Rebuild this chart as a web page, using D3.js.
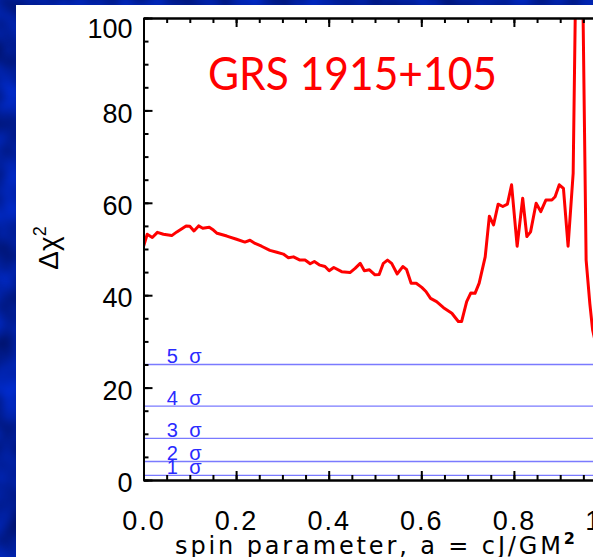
<!DOCTYPE html>
<html>
<head>
<meta charset="utf-8">
<script src="https://cdn.jsdelivr.net/npm/d3@7"></script>
<style>
  html, body { margin: 0; padding: 0; background: #0a1f9c; }
  svg { display: block; }
</style>
</head>
<body>
<svg id="chart" width="593" height="557"></svg>
<script>
// Spin parameter grid and Δχ² values of the fit scan
const spin = [
  0.000, 0.008, 0.019, 0.030, 0.043, 0.061, 0.072, 0.092, 0.100, 0.109,
  0.119, 0.128, 0.142, 0.151, 0.159, 0.180, 0.201, 0.219, 0.230, 0.241,
  0.255, 0.273, 0.288, 0.302, 0.313, 0.324, 0.338, 0.349, 0.360, 0.369,
  0.381, 0.392, 0.401, 0.411, 0.428, 0.446, 0.457, 0.468, 0.477, 0.488,
  0.500, 0.509, 0.518, 0.527, 0.536, 0.548, 0.560, 0.568, 0.578, 0.589,
  0.601, 0.610, 0.620, 0.633, 0.648, 0.666, 0.680, 0.687, 0.698, 0.707,
  0.716, 0.725, 0.738, 0.747, 0.756, 0.766, 0.776, 0.786, 0.795, 0.807,
  0.819, 0.828, 0.836, 0.848, 0.858, 0.869, 0.882, 0.889, 0.898, 0.907,
  0.917, 0.928, 0.934, 0.948, 0.956, 0.964, 0.970, 0.980
];
const deltaChi2 = [
  50.5, 53.2, 52.5, 53.6, 53.2, 52.9, 53.7, 55.0, 54.9, 53.9,
  55.0, 54.5, 54.7, 54.1, 53.4, 52.8, 52.1, 51.5, 51.9, 51.2,
  50.6, 49.7, 49.3, 48.9, 48.1, 48.3, 47.6, 47.6, 46.8, 47.3,
  46.5, 46.2, 45.3, 46.0, 45.1, 44.9, 45.8, 46.9, 45.3, 45.5,
  44.4, 44.5, 46.9, 47.6, 46.9, 44.6, 46.2, 45.6, 42.6, 42.6,
  41.7, 40.8, 39.3, 38.6, 37.3, 36.1, 34.3, 34.3, 38.6, 40.5,
  40.4, 42.6, 48.3, 57.1, 55.2, 59.7, 59.2, 59.7, 63.9, 50.6,
  61.0, 52.7, 53.7, 59.9, 58.1, 60.6, 60.6, 61.3, 63.9, 63.1,
  50.6, 66.4, 112.0, 112.0, 47.6, 38.2, 32.5, 28.0
];

// Confidence levels drawn as horizontal reference lines
const sigmaLevels = [1, 4, 9, 16, 25];
const sigmaLabels = ["1 σ", "2 σ", "3 σ", "4 σ", "5 σ"];

const xTicks = [0.0, 0.2, 0.4, 0.6, 0.8, 1.0];
const xTickLabels = ["0.0", "0.2", "0.4", "0.6", "0.8", "1.0"];
const yTicks = [0, 20, 40, 60, 80, 100];
const yTickLabels = ["0", "20", "40", "60", "80", "100"];

const titleText = "GRS 1915+105";

(function draw() {
  const svg = d3.select("#chart");
  const W = 593, H = 557;

  // Mottled blue slide background
  const defs = svg.append("defs");
  const f = defs.append("filter").attr("id", "mottle")
    .attr("filterUnits", "userSpaceOnUse")
    .attr("color-interpolation-filters", "sRGB")
    .attr("x", 0).attr("y", 0).attr("width", W).attr("height", H);
  f.append("feTurbulence").attr("type", "fractalNoise")
    .attr("baseFrequency", "0.03").attr("numOctaves", 2).attr("seed", 11);
  f.append("feColorMatrix").attr("type", "matrix")
    .attr("values", "0 0 0 0 0.0  0 0 0.14 0 0.05  0 0 0.55 0 0.34  0 0 0 0 1");
  svg.append("rect").attr("width", W).attr("height", H)
    .attr("fill", "#0a1f9c").attr("filter", "url(#mottle)");

  // White panel holding the plot
  svg.append("rect").attr("x", 16).attr("y", 5)
    .attr("width", W - 16).attr("height", H - 5).attr("fill", "#ffffff");

  const plotLeft = 143.5, plotTop = 18, plotW = 463, plotH = 462;
  const x = d3.scaleLinear().domain([0, 1]).range([plotLeft, plotLeft + plotW]);
  const y = d3.scaleLinear().domain([0, 100]).range([plotTop + plotH, plotTop]);

  defs.append("clipPath").attr("id", "plotClip")
    .append("rect").attr("x", plotLeft).attr("y", plotTop)
    .attr("width", plotW).attr("height", plotH);

  const plot = svg.append("g").attr("clip-path", "url(#plotClip)");

  // Sigma lines
  plot.selectAll("line.sigma").data(sigmaLevels).join("line")
    .attr("class", "sigma")
    .attr("x1", x(0)).attr("x2", x(1))
    .attr("y1", d => y(d)).attr("y2", d => y(d))
    .attr("stroke", "#7a7aff").attr("stroke-width", 1.3);

  svg.selectAll("text.sigmaLabel").data(sigmaLevels).join("text")
    .attr("class", "sigmaLabel")
    .attr("x", x(0.05)).attr("y", d => y(d) - 1.5)
    .attr("fill", "#2a2aff")
    .attr("font-family", "Liberation Sans, Arial, sans-serif")
    .attr("font-size", 20).attr("letter-spacing", 3)
    .text((d, i) => sigmaLabels[i]);

  // Δχ² curve
  const line = d3.line().x(d => x(d[0])).y(d => y(d[1]));
  plot.append("path")
    .datum(spin.map((s, i) => [s, deltaChi2[i]]))
    .attr("d", line)
    .attr("fill", "none").attr("stroke", "#ff0000")
    .attr("stroke-width", 3).attr("stroke-linejoin", "round");

  // Axes with inward ticks
  const minorX = d3.range(0, 1.0001, 0.05);
  const minorY = d3.range(0, 100.001, 5);
  const axisFont = "Liberation Sans, Arial, sans-serif";

  function styleAxis(g) {
    g.select(".domain").attr("stroke", "#000").attr("stroke-width", 2);
    g.selectAll(".tick line").attr("stroke", "#000").attr("stroke-width", 2);
  }

  // bottom
  svg.append("g").attr("transform", `translate(0,${y(0)})`)
    .call(d3.axisBottom(x).tickValues(minorX).tickSizeInner(-5).tickSizeOuter(0).tickFormat(""))
    .call(styleAxis);
  const bottom = svg.append("g").attr("transform", `translate(0,${y(0)})`)
    .call(d3.axisBottom(x).tickValues(xTicks).tickSizeInner(-9).tickSizeOuter(0)
      .tickFormat((d, i) => xTickLabels[i]))
    .call(styleAxis);
  bottom.selectAll("text").attr("y", 50).attr("dy", 0)
    .attr("font-family", axisFont).attr("font-size", 27)
    .attr("letter-spacing", 2).attr("fill", "#000");

  // top
  svg.append("g").attr("transform", `translate(0,${y(100)})`)
    .call(d3.axisTop(x).tickValues(minorX).tickSizeInner(-5).tickSizeOuter(0).tickFormat(""))
    .call(styleAxis);
  svg.append("g").attr("transform", `translate(0,${y(100)})`)
    .call(d3.axisTop(x).tickValues(xTicks).tickSizeInner(-9).tickSizeOuter(0).tickFormat(""))
    .call(styleAxis);

  // left
  svg.append("g").attr("transform", `translate(${x(0)},0)`)
    .call(d3.axisLeft(y).tickValues(minorY).tickSizeInner(-5).tickSizeOuter(0).tickFormat(""))
    .call(styleAxis);
  const leftAx = svg.append("g").attr("transform", `translate(${x(0)},0)`)
    .call(d3.axisLeft(y).tickValues(yTicks).tickSizeInner(-9).tickSizeOuter(0)
      .tickFormat((d, i) => yTickLabels[i]))
    .call(styleAxis);
  leftAx.selectAll("text").attr("x", -11).attr("dy", "0.43em")
    .attr("font-family", axisFont).attr("font-size", 27).attr("fill", "#000");
  leftAx.selectAll(".tick").filter(d => d === 100).select("text").attr("dy", "0.72em");

  // Axis titles
  svg.append("text")
    .attr("x", x(0.5)).attr("y", 554)
    .attr("text-anchor", "middle")
    .attr("font-family", "'DejaVu Sans', sans-serif").attr("font-size", 24).attr("fill", "#000")
    .attr("textLength", 400).attr("lengthAdjust", "spacing")
    .call(t => {
      t.append("tspan").text("spin parameter, a = cJ/GM");
      t.append("tspan").attr("dy", -10).attr("font-size", 16).attr("font-weight", "bold").text("2");
    });

  svg.append("text")
    .attr("transform", "translate(58,248) rotate(-90)")
    .attr("text-anchor", "middle")
    .attr("font-family", axisFont).attr("font-size", 28).attr("fill", "#000")
    .call(t => {
      t.append("tspan").text("Δχ");
      t.append("tspan").attr("dy", -12).attr("font-size", 18).text("2");
    });

  // Source name
  svg.append("text")
    .attr("x", 208).attr("y", 90)
    .attr("font-family", "Lato, 'Open Sans', sans-serif")
    .attr("font-size", 46).attr("fill", "#ff0000")
    .attr("textLength", 289).attr("lengthAdjust", "spacingAndGlyphs")
    .text(titleText);
})();
</script>
</body>
</html>
